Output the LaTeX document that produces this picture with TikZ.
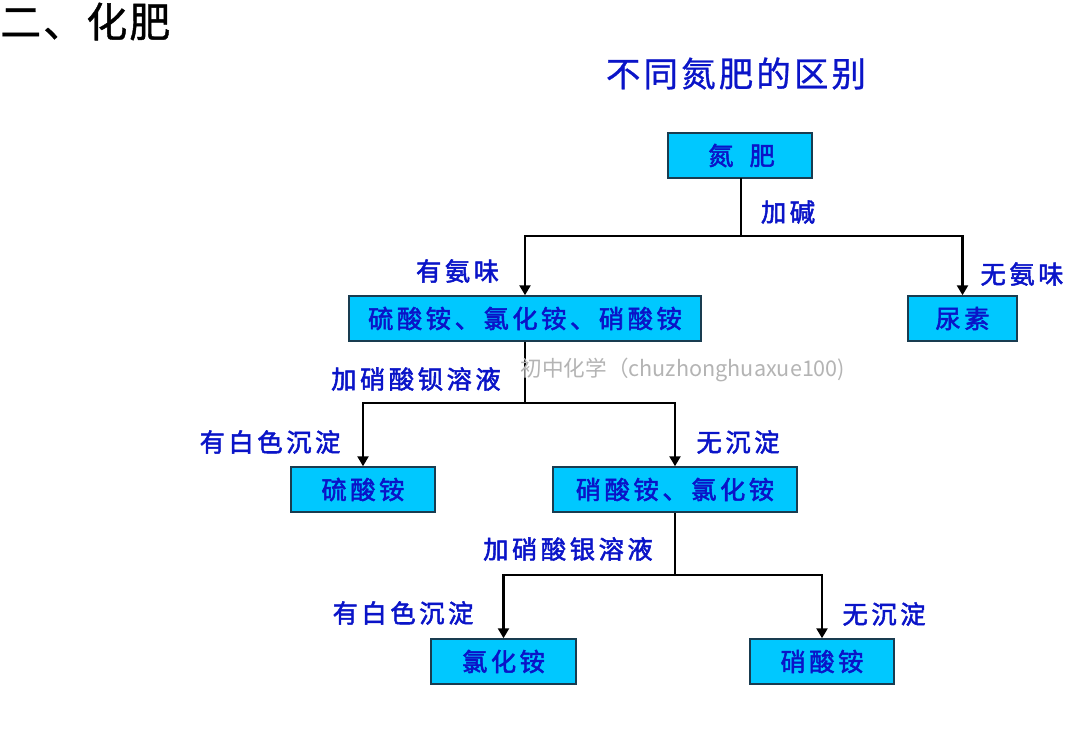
\documentclass[tikz,border=0pt]{standalone}
\usepackage{fontspec}
\usetikzlibrary{arrows.meta,calc}
\newfontfamily\cjklab[LetterSpace=14,FakeBold=2]{Noto Sans CJK SC}
\newfontfamily\cjktitle[LetterSpace=9,FakeBold=0.8]{Noto Sans CJK SC}
\newfontfamily\cjkhead[LetterSpace=5,FakeBold=1]{Noto Sans CJK SC}
\newfontfamily\cjkmark{Noto Sans CJK SC}
\definecolor{boxblue}{RGB}{0,200,255}
\definecolor{textblue}{RGB}{10,20,200}
\definecolor{edgedark}{RGB}{25,60,80}
\definecolor{markgrey}{RGB}{180,180,180}
\newcommand{\boxtxt}[1]{\raisebox{-1pt}{#1}}
\tikzset{
  x=1pt,y=-1pt,
  cbox/.style={draw=edgedark,line width=1.5pt,fill=boxblue,text=textblue,inner sep=0pt,minimum height=45pt,
    font=\fontsize{25.3}{25.3}\selectfont\cjklab},
  lab/.style={text=textblue,inner sep=0pt,font=\fontsize{25.3}{25.3}\selectfont\cjklab},
  conn/.style={draw=black,line width=2.8pt},
  arr/.style={conn,-{Triangle[length=10pt,width=11pt]}}
}
\begin{document}
\begin{tikzpicture}
\useasboundingbox (0,0) rectangle (1080,731);
\fill[white] (0,0) rectangle (1080,731);
\node[anchor=west,inner sep=0pt,font=\fontsize{41}{41}\selectfont\cjkhead] (head) at (0,21.5) {二、化肥};
\node[text=textblue,inner sep=0pt,font=\fontsize{34.5}{34.5}\selectfont\cjktitle] (title) at (736,73.5) {不同氮肥的区别};
\node[cbox,minimum width=144pt] (n) at (740,155.5) {\boxtxt{\hspace{3pt}氮\hspace{16pt}肥}};
\node[cbox,minimum width=352pt] (a) at (525,318.5) {\boxtxt{硫酸铵、氯化铵、硝酸铵}};
\node[cbox,minimum width=109pt] (u) at (962.5,318.5) {\boxtxt{尿素}};
\node[cbox,minimum width=144pt] (s) at (363,489.5) {\boxtxt{硫酸铵}};
\node[cbox,minimum width=244pt] (m) at (675,489.5) {\boxtxt{硝酸铵、氯化铵}};
\node[cbox,minimum width=145pt] (c) at (503.5,661.5) {\boxtxt{氯化铵}};
\node[cbox,minimum width=144pt] (x) at (822,661.5) {\boxtxt{硝酸铵}};
\coordinate (j0) at (741,178);
\coordinate (j1) at (741,236);
\coordinate (j2) at (525,403);
\coordinate (j3) at (675,575);
\draw[conn] (j0) -- (j1);
\draw[arr] (j1) -| (a.north);
\draw[arr] (j1) -| (u.north);
\draw[conn] (a.south) -- (j2);
\draw[arr] (j2) -| (s.north);
\draw[arr] (j2) -| (m.north);
\draw[conn] (m.south) -- (j3);
\draw[arr] (j3) -| (c.north);
\draw[arr] (j3) -| (x.north);
\node[lab] (l1) at (788,212) {加碱};
\node[lab] (l2) at (457.5,271) {有氨味};
\node[lab] (l3) at (1022,274) {无氨味};
\node[lab] (l4) at (416,379) {加硝酸钡溶液};
\node[lab] (l5) at (270,442) {有白色沉淀};
\node[lab] (l6) at (738,442) {无沉淀};
\node[lab] (l7) at (568,549) {加硝酸银溶液};
\node[lab] (l8) at (403,613) {有白色沉淀};
\node[lab] (l9) at (884,614) {无沉淀};
\node[text=markgrey,inner sep=0pt,font=\fontsize{21.6}{21.6}\selectfont\cjkmark] (wm) at (683,370) {初中化学（chuzhonghuaxue100)};
\end{tikzpicture}
\end{document}
